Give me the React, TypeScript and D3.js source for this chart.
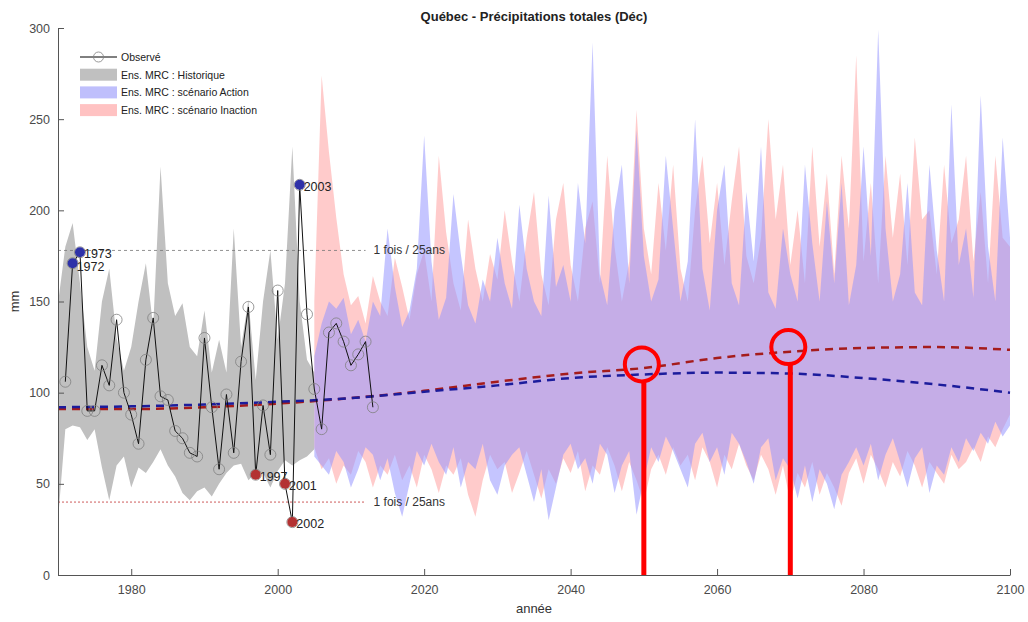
import { useEffect, useRef } from "react";
import * as d3 from "d3";

const W = 1028;
const H = 622;
const MARGIN = { top: 28, right: 18, bottom: 47, left: 58 };

// observé 1971-2013
const OBS_YEARS = d3.range(1971, 2014);
const OBS_VALUES = [
  106, 171, 177, 90, 90, 115, 104, 140, 100, 88,
  72, 118, 141, 98, 96, 79, 75, 67, 65, 130,
  92, 58, 99, 67, 117, 147, 55, 93, 66, 156,
  50, 29, 214, 143, 102, 80, 133, 138, 128, 115,
  121, 128, 92,
];
const HIGH_YEARS = [1972, 1973, 2003];
const LOW_YEARS = [1997, 2001, 2002];

// ensemble historique 1970-2005
const HIST_YEARS = d3.range(1970, 2006);
const HIST_HI = [
  149, 180, 193, 160, 125, 112, 150, 168, 130, 112,
  125, 150, 171, 136, 224, 160, 142, 149, 125, 120,
  145, 111, 129, 111, 190, 125, 151, 107, 150, 178,
  129, 160, 235, 150, 118, 111,
];
const HIST_LO = [
  30, 80, 82, 81, 74, 80, 59, 41, 60, 65,
  48, 59, 56, 62, 69, 60, 54, 45, 41, 46,
  48, 43, 50, 56, 60, 61, 52, 56, 56, 48,
  57, 63, 60, 63, 65, 69,
];

// scénarios 2005-2100
const PROJ_YEARS = d3.range(2005, 2101);
const ACTION_HI = [
  120, 138, 150, 146, 152, 132, 140, 128, 150, 142,
  190, 158, 136, 145, 168, 241, 172, 140, 152, 209,
  176, 148, 138, 162, 150, 185, 160, 146, 203, 168,
  150, 142, 208, 158, 170, 150, 215, 182, 292, 165,
  148, 200, 225, 160, 244, 175, 150, 162, 230, 190,
  150, 172, 250, 168, 145, 200, 225, 160, 148, 210,
  172, 235, 155, 146, 190, 165, 150, 225, 182, 150,
  205, 160, 215, 148, 170, 235, 175, 299, 190, 150,
  165, 215, 155, 148, 225, 178, 150, 258, 170, 190,
  152, 263, 180, 150, 240, 185,
];
const ACTION_LO = [
  65, 60, 55, 68, 62, 48, 58, 70, 66, 52,
  64, 45, 32, 50, 68, 60, 72, 62, 55, 70,
  48, 62, 58, 72, 52, 44, 60, 66, 70, 55,
  40, 58, 30, 48, 66, 72, 58, 64, 50, 72,
  66, 45, 60, 68, 33, 52, 70, 62, 76, 68,
  58, 48, 72, 78, 62, 70, 55, 78, 72, 62,
  50, 70, 75, 52, 64, 58, 42, 60, 40, 58,
  50, 36, 55, 62, 70, 60, 72, 52, 66, 75,
  62, 48, 64, 70, 45, 60, 55, 70, 62, 75,
  68, 78, 72, 84, 76, 82,
];
const INACTION_HI = [
  150, 274, 232, 196, 165, 148, 153, 138, 164, 150,
  142, 174, 158, 140, 165, 178, 150, 230, 188, 160,
  145, 195, 168, 150, 176, 162, 200, 172, 150, 185,
  210, 165, 148, 195, 215, 170, 150, 190, 205, 160,
  230, 180, 150, 172, 255, 190, 165, 215, 178, 225,
  168, 150, 200, 230, 182, 215, 170, 205, 235, 175,
  160, 185, 250, 195, 225, 170, 200, 160, 235, 180,
  220, 165, 230, 190, 285, 172, 215, 160, 230, 185,
  220, 170, 240, 195, 200, 165, 225, 182, 195, 230,
  172, 210, 160, 230, 185, 180,
];
const INACTION_LO = [
  70, 58, 64, 50, 60, 55, 68, 62, 48, 60,
  55, 66, 52, 60, 48, 66, 58, 45, 60, 55,
  64, 44, 32, 52, 66, 58, 62, 45, 56, 68,
  55, 42, 58, 50, 64, 56, 68, 46, 60, 55,
  70, 60, 46, 62, 52, 40, 58, 66, 55, 70,
  60, 66, 52, 70, 62, 48, 66, 58, 72, 60,
  52, 66, 58, 44, 60, 40, 56, 48, 62, 44,
  56, 48, 38, 56, 64, 50, 66, 58, 48, 62,
  54, 68, 60, 48, 62, 56, 50, 66, 58, 62,
  70, 62, 76, 70, 80, 88,
];

// moyennes d'ensemble (tendance lissée)
const MEAN_YEARS = d3.range(1970, 2101, 10);
const MEAN_ACTION = [92, 92.5, 93.5, 95, 97, 100.5, 104, 108, 110, 111, 110.5, 108, 104.5, 100];
const MEAN_INACTION = [91, 91, 92, 94, 97, 101, 106, 110.5, 113.5, 119, 122.5, 124.5, 125, 123.5];

const THRESH_HIGH = 178;
const THRESH_LOW = 40;
const THRESH_END = 2012;

const MARK_YEARS = [2050, 2070];
const MARK_VALUES = [115.5, 125];

const X_TICKS = d3.range(1980, 2101, 20);
const Y_TICKS = d3.range(0, 301, 50);

const LEGEND = [
  { label: "Observé", kind: "obs", color: "#000" },
  { label: "Ens. MRC : Historique", kind: "rect", color: "#c0c0c0" },
  { label: "Ens. MRC : scénario Action", kind: "rect", color: "#bfbffc" },
  { label: "Ens. MRC : scénario Inaction", kind: "rect", color: "#ffc2c2" },
];

const FONT = "'Liberation Sans', Arial, sans-serif";

function draw(svgEl: SVGSVGElement) {
  const svg = d3.select(svgEl);
  svg.selectAll("*").remove();

  const x = d3.scaleLinear().domain([1970, 2100]).range([MARGIN.left, W - MARGIN.right]);
  const y = d3.scaleLinear().domain([0, 300]).range([H - MARGIN.bottom, MARGIN.top]);

  svg.append("rect").attr("width", W).attr("height", H).attr("fill", "white");

  const band = (years: number[], lo: number[], hi: number[]) =>
    d3.area<number>()
      .x((_, i) => x(years[i]))
      .y0((_, i) => y(lo[i]))
      .y1((_, i) => y(hi[i]))(years);

  // bandes
  svg.append("path").attr("d", band(HIST_YEARS, HIST_LO, HIST_HI)).attr("fill", "#c0c0c0");
  svg.append("path").attr("d", band(PROJ_YEARS, INACTION_LO, INACTION_HI))
    .attr("fill", "rgb(255,140,140)").attr("fill-opacity", 0.45);
  svg.append("path").attr("d", band(PROJ_YEARS, ACTION_LO, ACTION_HI))
    .attr("fill", "rgb(150,150,255)").attr("fill-opacity", 0.55);

  // seuils 1 fois / 25 ans
  [
    { v: THRESH_HIGH, color: "#777", dash: "3,3" },
    { v: THRESH_LOW, color: "#c03030", dash: "2,2" },
  ].forEach(({ v, color, dash }) => {
    svg.append("line")
      .attr("x1", x(1970)).attr("x2", x(THRESH_END))
      .attr("y1", y(v)).attr("y2", y(v))
      .attr("stroke", color).attr("stroke-width", 0.8)
      .attr("stroke-dasharray", dash);
    svg.append("text")
      .attr("x", x(THRESH_END) + 8).attr("y", y(v) + 4)
      .attr("font-family", FONT).attr("font-size", 12).attr("fill", "#333")
      .text("1 fois / 25ans");
  });

  // moyennes
  const meanLine = (vals: number[]) =>
    d3.line<number>()
      .x((_, i) => x(MEAN_YEARS[i]))
      .y((d) => y(d))
      .curve(d3.curveMonotoneX)(vals);
  svg.append("path").attr("d", meanLine(MEAN_INACTION))
    .attr("fill", "none").attr("stroke", "#a51c1c").attr("stroke-width", 2.5)
    .attr("stroke-dasharray", "8,6");
  svg.append("path").attr("d", meanLine(MEAN_ACTION))
    .attr("fill", "none").attr("stroke", "#1c1c9c").attr("stroke-width", 2.5)
    .attr("stroke-dasharray", "8,6");

  // observé
  const obsLine = d3.line<number>()
    .x((_, i) => x(OBS_YEARS[i]))
    .y((d) => y(d));
  svg.append("path").attr("d", obsLine(OBS_VALUES))
    .attr("fill", "none").attr("stroke", "#111").attr("stroke-width", 1);
  OBS_VALUES.forEach((v, i) => {
    svg.append("circle")
      .attr("cx", x(OBS_YEARS[i])).attr("cy", y(v)).attr("r", 5.5)
      .attr("fill", "none").attr("stroke", "#808080").attr("stroke-width", 0.8);
  });

  // extrêmes
  const extreme = (yr: number, color: string) => {
    const v = OBS_VALUES[OBS_YEARS.indexOf(yr)];
    svg.append("circle")
      .attr("cx", x(yr)).attr("cy", y(v)).attr("r", 5)
      .attr("fill", color);
    svg.append("text")
      .attr("x", x(yr) + 4).attr("y", y(v) + (yr === 1972 ? 8 : 6))
      .attr("font-family", FONT).attr("font-size", 12.5).attr("fill", "#222")
      .text(yr);
  };
  HIGH_YEARS.forEach((yr) => extreme(yr, "#2e31a8"));
  LOW_YEARS.forEach((yr) => extreme(yr, "#b33232"));

  // axes
  const xAxis = svg.append("g")
    .attr("transform", `translate(0,${y(0)})`)
    .call(d3.axisBottom(x).tickValues(X_TICKS).tickFormat(d3.format("d"))
      .tickSizeInner(-6).tickSizeOuter(0).tickPadding(10));
  const yAxis = svg.append("g")
    .attr("transform", `translate(${x(1970)},0)`)
    .call(d3.axisLeft(y).tickValues(Y_TICKS).tickSizeInner(-6).tickSizeOuter(0).tickPadding(8));
  [xAxis, yAxis].forEach((a) => {
    a.select(".domain").attr("stroke", "#555");
    a.selectAll(".tick line").attr("stroke", "#555");
    a.selectAll("text").attr("font-family", FONT).attr("font-size", 12.5).attr("fill", "#4a4a4a");
  });

  // titres
  svg.append("text")
    .attr("x", (x(1970) + x(2100)) / 2).attr("y", 21)
    .attr("text-anchor", "middle")
    .attr("font-family", FONT).attr("font-size", 13).attr("font-weight", "bold").attr("fill", "#222")
    .text("Québec - Précipitations totales (Déc)");
  svg.append("text")
    .attr("x", (x(1970) + x(2100)) / 2).attr("y", 613)
    .attr("text-anchor", "middle")
    .attr("font-family", FONT).attr("font-size", 13).attr("fill", "#333")
    .text("année");
  svg.append("text")
    .attr("transform", `translate(19,${y(150)}) rotate(-90)`)
    .attr("text-anchor", "middle")
    .attr("font-family", FONT).attr("font-size", 13).attr("fill", "#333")
    .text("mm");

  // légende
  const lg = svg.append("g").attr("transform", "translate(80,57)");
  LEGEND.forEach((item, i) => {
    const yy = i * 17.7;
    if (item.kind === "obs") {
      lg.append("line").attr("x1", 0).attr("x2", 37).attr("y1", yy).attr("y2", yy)
        .attr("stroke", "#000").attr("stroke-width", 1);
      lg.append("circle").attr("cx", 18.5).attr("cy", yy).attr("r", 5)
        .attr("fill", "none").attr("stroke", "#808080").attr("stroke-width", 0.8);
    } else {
      lg.append("rect").attr("x", 0).attr("y", yy - 6).attr("width", 37).attr("height", 12)
        .attr("fill", item.color);
    }
    lg.append("text")
      .attr("x", 41).attr("y", yy + 4)
      .attr("font-family", FONT).attr("font-size", 10.5).attr("fill", "#222")
      .text(item.label);
  });

  // annotations rouges
  MARK_YEARS.forEach((yr, i) => {
    const cx = x(yr) - 2;
    const cy = y(MARK_VALUES[i]);
    svg.append("line")
      .attr("x1", x(yr)).attr("x2", x(yr))
      .attr("y1", cy + 18).attr("y2", y(0))
      .attr("stroke", "#ff0000").attr("stroke-width", 5);
    svg.append("circle")
      .attr("cx", cx).attr("cy", cy).attr("r", 17)
      .attr("fill", "none").attr("stroke", "#ff0000").attr("stroke-width", 4);
  });
}

export default function App() {
  const ref = useRef<SVGSVGElement>(null);
  useEffect(() => {
    if (ref.current) draw(ref.current);
  }, []);
  return (
    <svg
      ref={ref}
      width={W}
      height={H}
      style={{ position: "absolute", left: 0, top: 0, background: "white" }}
    />
  );
}
